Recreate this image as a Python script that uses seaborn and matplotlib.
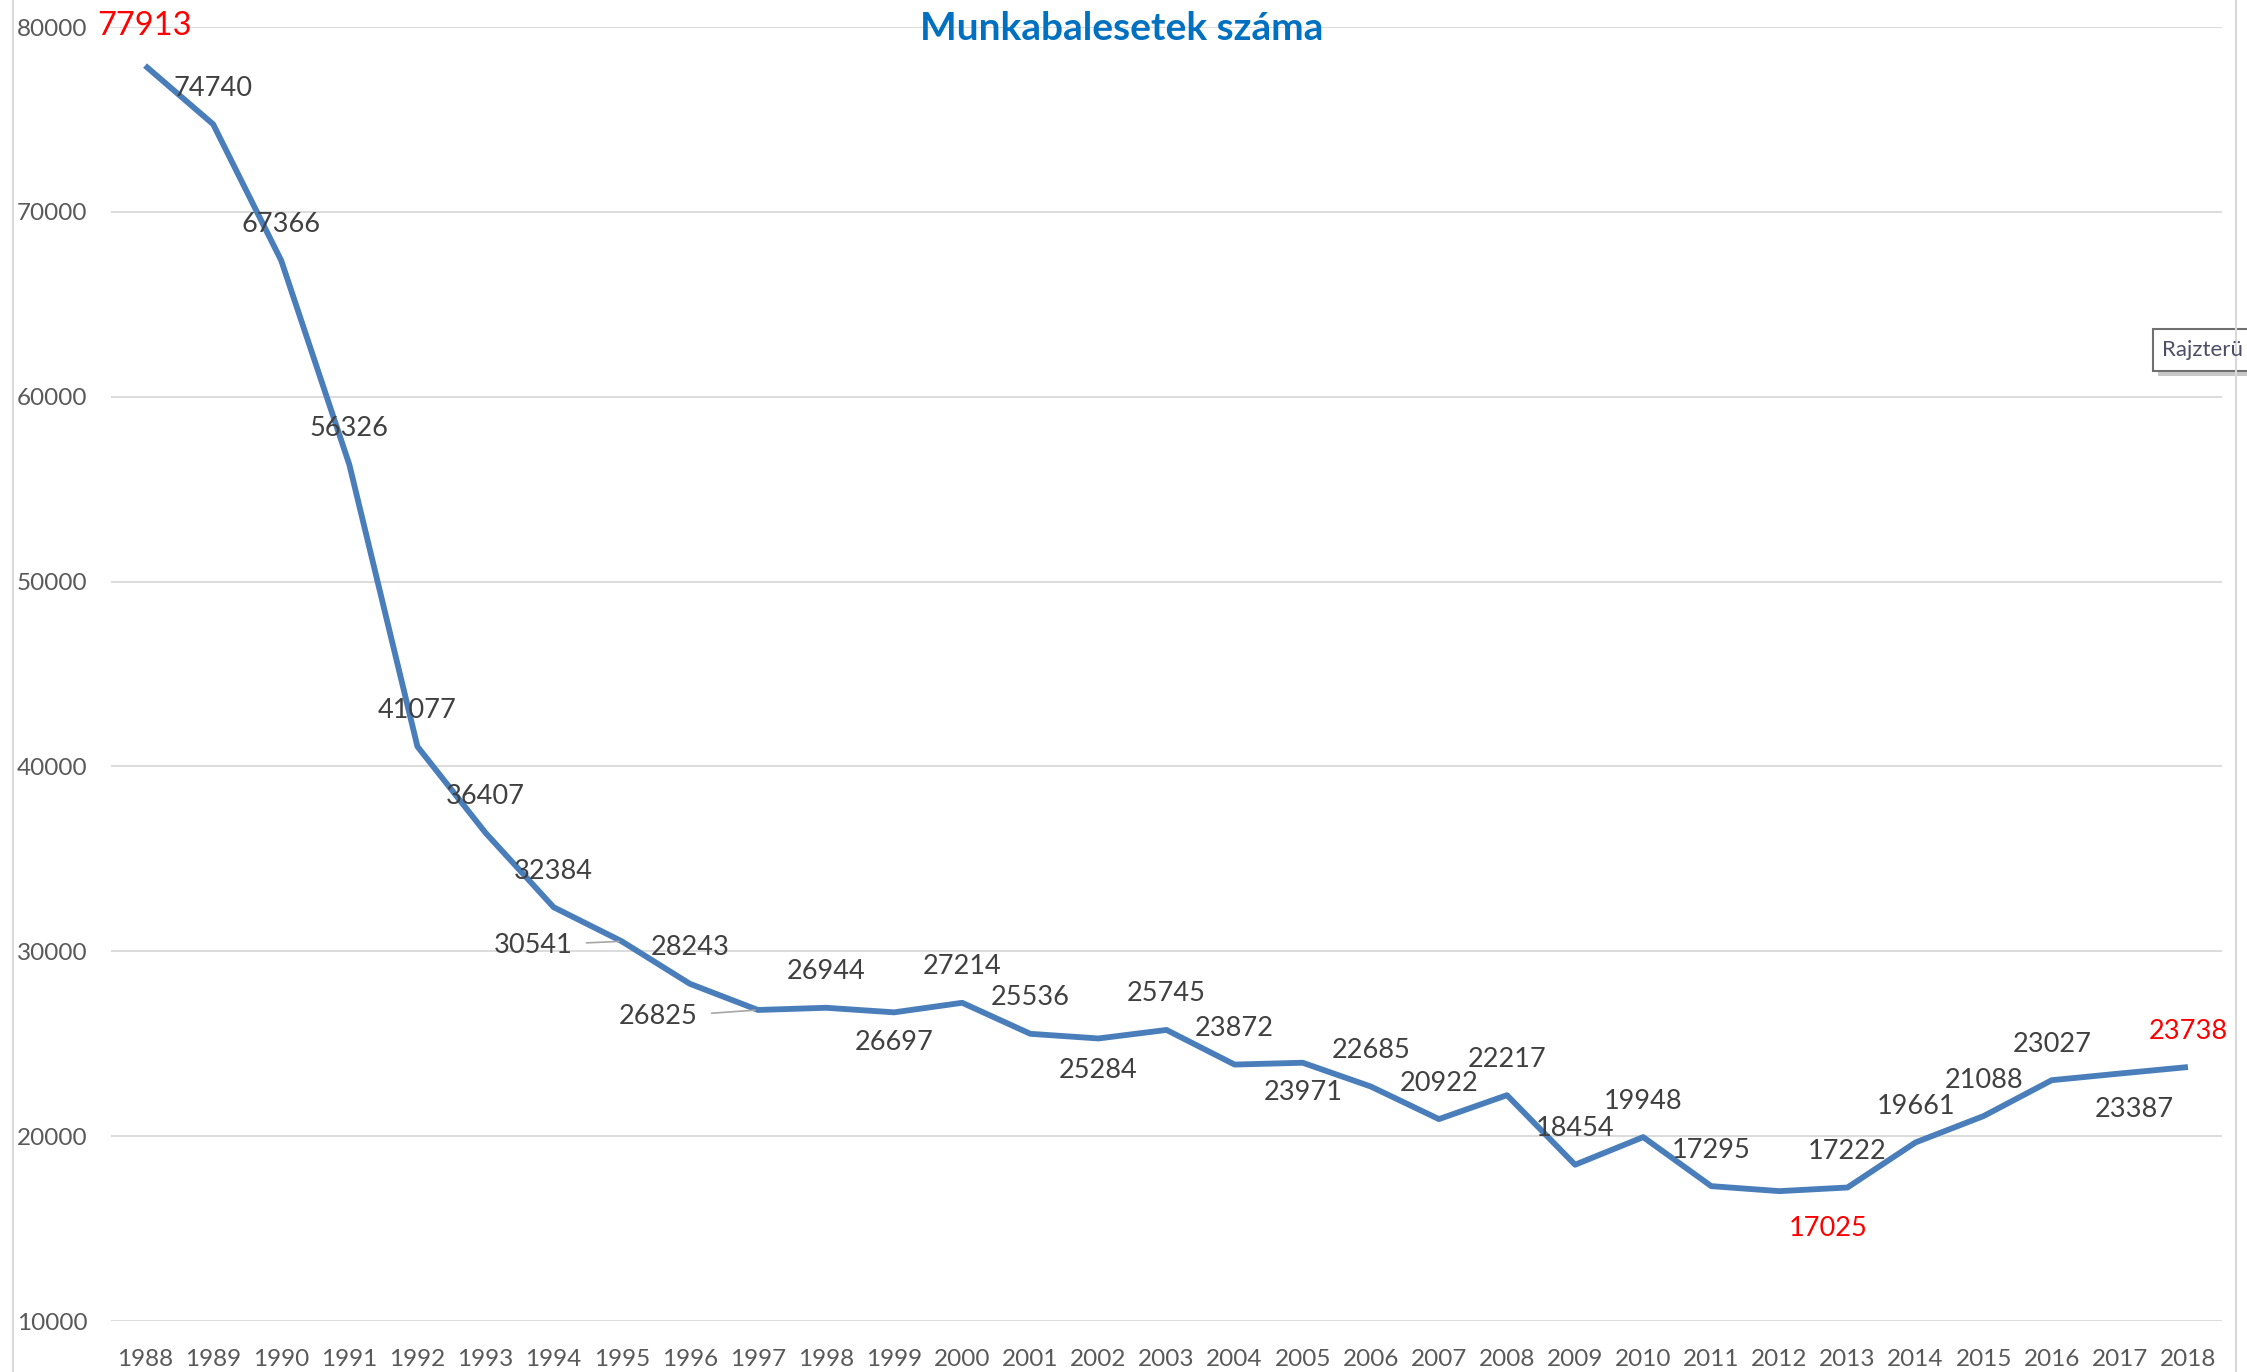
import numpy as np
import pandas as pd
import matplotlib
matplotlib.use("Agg")
import matplotlib.pyplot as plt
import seaborn as sns
from matplotlib.patches import Rectangle

# ---- Data ----
years = list(range(1988, 2019))
accidents = [77913, 74740, 67366, 56326, 41077, 36407, 32384, 30541, 28243, 26825,
             26944, 26697, 27214, 25536, 25284, 25745, 23872, 23971, 22685, 20922,
             22217, 18454, 19948, 17295, 17025, 17222, 19661, 21088, 23027, 23387,
             23738]
highlight_years = [1988, 2012, 2018]
title = "Munkabalesetek száma"
tooltip = "Rajzterü"

# label placement (pixel offsets), default is above the point
label_offsets = {1988: (0, 40), 1995: (-89, -4), 1997: (-100, -7),
                 1999: (0, -30), 2002: (0, -32), 2005: (0, -30),
                 2012: (49, -37), 2017: (14, -36)}
leader_years = [1995, 1997]

df = pd.DataFrame({"pos": np.arange(len(years)), "year": years, "value": accidents})

sns.set_style("white")
plt.rcParams["font.family"] = ["Lato", "DejaVu Sans"]

W, H = 2247, 1372
fig = plt.figure(figsize=(W / 100, H / 100), dpi=100)
ax = fig.add_axes([111 / W, 51 / H, 2111 / W, 1294 / H])

sns.lineplot(data=df, x="pos", y="value", color="#4a7ebb", lw=4.2, ax=ax,
             solid_capstyle="butt")

ax.set_xlim(-0.5, len(years) - 0.5)
ax.set_ylim(10000, 80000)
ax.set_yticks(range(10000, 80001, 10000))
ax.set_xticks(df["pos"])
ax.set_xticklabels([str(y) for y in years])
ax.grid(axis="y", color="#d9d9d9", lw=1.3)
ax.set_axisbelow(True)
for s in ax.spines.values():
    s.set_visible(False)
ax.tick_params(axis="both", length=0, labelsize=17.5, colors="#595959")
ax.tick_params(axis="y", pad=17)
ax.tick_params(axis="x", pad=20)
ax.set_xlabel("")
ax.set_ylabel("")

# ---- data labels ----
for _, r in df.iterrows():
    yr = int(r["year"])
    off = label_offsets.get(yr, (0, 36))
    red = yr in highlight_years
    kw = {}
    if yr in leader_years:
        kw["arrowprops"] = dict(arrowstyle="-", color="#a6a6a6", lw=1.2,
                                shrinkA=8, shrinkB=2)
    ax.annotate(str(int(r["value"])), (r["pos"], r["value"]),
                xytext=off, textcoords="offset pixels",
                ha="center", va="center",
                fontsize=23.5 if yr == 1988 else 19.5,
                color="#ff0000" if red else "#404040", **kw)

# ---- title ----
fig.text(1122 / W, 1 - 29 / H, title, ha="center", va="center",
         fontsize=28, fontweight="bold", color="#0070c0")

# chart area borders
fig.add_artist(plt.Line2D([13 / W, 13 / W], [0, 1], color="#d9d9d9", lw=1.5))
fig.add_artist(plt.Line2D([2236 / W, 2236 / W], [0, 1], color="#d9d9d9", lw=1.5))

# plot-area tooltip, the box runs past the figure edge like in the screenshot
fig.add_artist(Rectangle((2158 / W, 1 - 376 / H), 120 / W, 42 / H,
                         transform=fig.transFigure, fc="#c8c8c8", ec="none"))
fig.add_artist(Rectangle((2153 / W, 1 - 371 / H), 120 / W, 42 / H,
                         transform=fig.transFigure, fc="white", ec="#707070", lw=1.5))
fig.text(2162 / W, 1 - 350 / H, tooltip, ha="left", va="center",
         fontsize=16, color="#4d4d66")

fig.savefig("out.png", dpi=100)
